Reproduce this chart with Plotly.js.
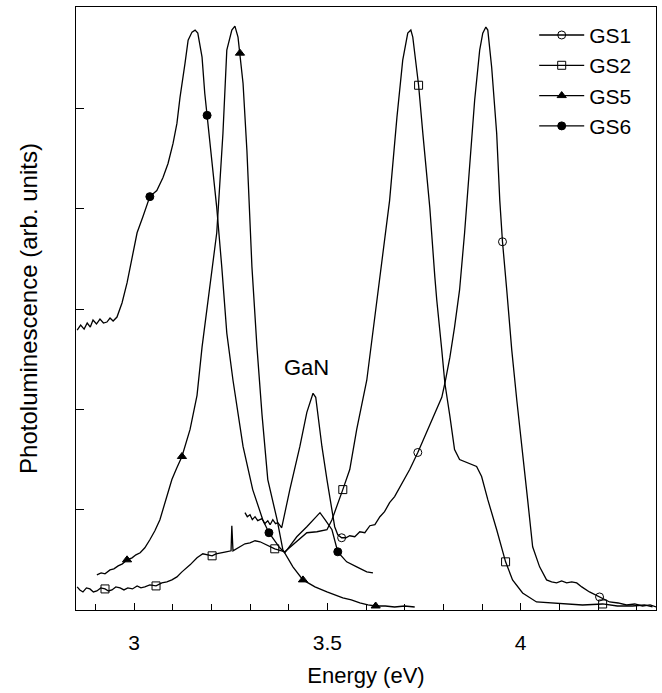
<!DOCTYPE html>
<html><head><meta charset="utf-8">
<script src="https://cdn.plot.ly/plotly-3.0.1.min.js"></script>
<style>html,body{margin:0;padding:0;background:#fff}</style>
</head><body><div id="chart" style="width:662px;height:693px"></div>
<script>
// ---- data (energy in eV, intensity in arb. units) ----
const GS1_x = [3.287,3.293,3.300,3.306,3.313,3.320,3.331,3.338,3.346,3.352,3.359,3.366,3.372,3.382,3.403,3.429,3.447,3.460,3.463,3.470,3.475,3.486,3.499,3.512,3.519,3.527,3.537,3.548,3.558,3.571,3.584,3.597,3.610,3.623,3.636,3.648,3.661,3.674,3.687,3.700,3.713,3.734,3.757,3.783,3.796,3.804,3.817,3.829,3.842,3.855,3.868,3.881,3.894,3.902,3.910,3.915,3.925,3.938,3.946,3.953,3.964,3.977,3.990,4.003,4.018,4.031,4.049,4.067,4.080,4.093,4.106,4.119,4.132,4.145,4.158,4.178,4.204,4.230,4.252,4.274,4.295,4.315,4.335,4.351];
const GS1_y = [0.97,0.93,0.95,0.90,0.93,0.89,0.91,0.86,0.89,0.85,0.90,0.86,0.87,0.82,1.20,1.63,1.97,2.12,2.16,2.12,1.97,1.63,1.30,1.00,0.83,0.75,0.72,0.72,0.74,0.73,0.78,0.77,0.84,0.85,0.93,0.98,1.07,1.13,1.22,1.30,1.40,1.57,1.77,1.99,2.12,2.26,2.52,2.82,3.19,3.76,4.41,5.08,5.58,5.75,5.81,5.78,5.41,4.75,4.08,3.67,3.19,2.59,2.09,1.60,1.10,0.63,0.43,0.30,0.28,0.27,0.29,0.27,0.28,0.27,0.23,0.18,0.13,0.08,0.07,0.05,0.06,0.04,0.05,0.03];
const GS1_mx = [3.537,3.734,3.953,4.204];
const GS1_my = [0.72,1.57,3.67,0.13];

const GS2_x = [2.853,2.860,2.868,2.877,2.886,2.895,2.904,2.914,2.925,2.934,2.943,2.953,2.964,2.974,2.984,2.996,3.008,3.018,3.028,3.041,3.057,3.065,3.072,3.085,3.098,3.111,3.124,3.145,3.163,3.178,3.190,3.202,3.212,3.222,3.238,3.251,3.253,3.256,3.265,3.274,3.287,3.300,3.313,3.326,3.344,3.364,3.390,3.411,3.430,3.447,3.473,3.499,3.512,3.525,3.540,3.558,3.576,3.602,3.636,3.661,3.680,3.695,3.708,3.716,3.721,3.736,3.747,3.765,3.778,3.783,3.796,3.804,3.817,3.829,3.842,3.860,3.886,3.899,3.915,3.938,3.961,3.979,4.005,4.041,4.083,4.120,4.160,4.212,4.250,4.289,4.320,4.341];
const GS2_y = [0.23,0.20,0.18,0.22,0.21,0.18,0.19,0.22,0.21,0.19,0.20,0.23,0.22,0.20,0.22,0.21,0.24,0.22,0.23,0.25,0.24,0.26,0.27,0.28,0.30,0.33,0.38,0.45,0.52,0.56,0.55,0.54,0.56,0.57,0.58,0.59,0.84,0.59,0.61,0.63,0.66,0.67,0.69,0.68,0.65,0.61,0.58,0.65,0.72,0.77,0.78,0.80,0.90,1.03,1.20,1.40,1.80,2.29,3.32,4.08,4.91,5.48,5.75,5.78,5.71,5.23,4.75,4.01,3.32,3.09,2.59,2.26,1.93,1.60,1.50,1.47,1.43,1.33,1.10,0.80,0.48,0.30,0.17,0.08,0.07,0.06,0.05,0.06,0.04,0.04,0.05,0.03];
const GS2_mx = [2.925,3.057,3.202,3.364,3.540,3.736,3.961,4.212];
const GS2_my = [0.21,0.24,0.54,0.61,1.20,5.23,0.48,0.06];

const GS5_x = [2.904,2.915,2.925,2.938,2.948,2.959,2.970,2.982,2.995,3.005,3.016,3.028,3.041,3.054,3.067,3.080,3.098,3.110,3.124,3.145,3.163,3.176,3.191,3.214,3.230,3.240,3.253,3.261,3.269,3.274,3.282,3.292,3.305,3.318,3.331,3.346,3.370,3.385,3.411,3.437,3.468,3.499,3.520,3.540,3.562,3.584,3.605,3.625,3.650,3.674,3.700,3.726];
const GS5_y = [0.35,0.37,0.36,0.40,0.41,0.44,0.46,0.50,0.52,0.55,0.57,0.62,0.70,0.79,0.90,1.07,1.30,1.41,1.53,1.80,2.14,2.62,3.09,3.76,4.75,5.58,5.78,5.82,5.71,5.55,5.25,4.58,3.42,2.62,1.95,1.30,0.90,0.60,0.43,0.30,0.23,0.18,0.15,0.12,0.10,0.07,0.05,0.04,0.04,0.03,0.04,0.03];
const GS5_mx = [2.982,3.124,3.274,3.437,3.625];
const GS5_my = [0.50,1.53,5.55,0.30,0.04];

const GS6_x = [2.853,2.862,2.871,2.879,2.887,2.894,2.903,2.912,2.921,2.930,2.938,2.946,2.956,2.969,2.982,2.995,3.008,3.023,3.041,3.059,3.075,3.088,3.101,3.111,3.119,3.132,3.140,3.150,3.158,3.165,3.176,3.183,3.189,3.202,3.214,3.227,3.240,3.256,3.282,3.307,3.333,3.349,3.377,3.390,3.421,3.447,3.468,3.481,3.494,3.512,3.527,3.550,3.576,3.602,3.618];
const GS6_y = [2.79,2.84,2.80,2.86,2.82,2.89,2.85,2.90,2.86,2.87,2.91,2.88,2.92,3.06,3.26,3.52,3.76,3.92,4.12,4.18,4.31,4.45,4.65,4.85,5.11,5.45,5.68,5.76,5.78,5.75,5.51,5.15,4.93,4.48,4.01,3.42,2.76,2.29,1.63,1.20,0.90,0.77,0.62,0.57,0.73,0.83,0.92,0.97,0.90,0.80,0.58,0.48,0.43,0.38,0.37];
const GS6_mx = [3.041,3.189,3.349,3.527];
const GS6_my = [4.12,4.93,0.77,0.58];

const xTickVals = [3, 3.5, 4];
const xTickText = ['3', '3.5', '4'];
const peakLabel = 'GaN';
const peakLabelX = 3.447, peakLabelY = 2.42;

// ---- build traces ----
const FONT = 'Liberation Sans, Arial, sans-serif';
const series = [
  {name:'GS1', x:GS1_x, y:GS1_y, mx:GS1_mx, my:GS1_my, sym:'circle-open'},
  {name:'GS2', x:GS2_x, y:GS2_y, mx:GS2_mx, my:GS2_my, sym:'square-open'},
  {name:'GS5', x:GS5_x, y:GS5_y, mx:GS5_mx, my:GS5_my, sym:'triangle-up'},
  {name:'GS6', x:GS6_x, y:GS6_y, mx:GS6_mx, my:GS6_my, sym:'circle'}
];
const traces = [];
series.forEach(s => {
  traces.push({x:s.x, y:s.y, mode:'lines', line:{color:'#000', width:1.3}, showlegend:false, hoverinfo:'skip'});
  traces.push({x:s.mx, y:s.my, mode:'markers', showlegend:false,
    marker:{symbol:s.sym, size:8, color:'#000', line:{color:'#000', width:1}}});
});
series.forEach(s => {
  traces.push({x:[null], y:[null], name:s.name, mode:'lines+markers',
    line:{color:'#000', width:1.3},
    marker:{symbol:s.sym, size:8, color:'#000', line:{color:'#000', width:1}}});
});

const layout = {
  width:662, height:693,
  margin:{l:76, r:6, t:7, b:83},
  paper_bgcolor:'#fff', plot_bgcolor:'#fff',
  font:{family:FONT, size:21, color:'#000'},
  showlegend:true,
  legend:{x:0.79, y:0.987, xanchor:'left', yanchor:'top', bgcolor:'rgba(0,0,0,0)',
    font:{family:FONT, size:21, color:'#000'}, itemwidth:45, tracegroupgap:0},
  xaxis:{range:[2.85, 4.35], showgrid:false, zeroline:false,
    showline:true, linecolor:'#000', linewidth:1, mirror:true,
    ticks:'inside', ticklen:7, tickcolor:'#000', tickwidth:1,
    tickmode:'array', tickvals:xTickVals, ticktext:xTickText,
    ticklabelstandoff:14,
    minor:{dtick:0.1, tick0:0, ticks:'inside', ticklen:6, tickcolor:'#000', tickwidth:1},
    tickfont:{family:FONT, size:21, color:'#000'},
    title:{text:'Energy (eV)', font:{family:FONT, size:22, color:'#000'}, standoff:14}},
  yaxis:{range:[0, 6.01], showgrid:false, zeroline:false,
    showline:true, linecolor:'#000', linewidth:1, mirror:true,
    ticks:'inside', ticklen:8, tickcolor:'#000', tickwidth:1,
    dtick:1, tick0:0, showticklabels:false,
    title:{text:'Photoluminescence (arb. units)', font:{family:FONT, size:24, color:'#000'}, standoff:30}},
  annotations:[{x:peakLabelX, y:peakLabelY, xref:'x', yref:'y', text:peakLabel, showarrow:false,
    font:{family:FONT, size:22, color:'#000'}}]
};
Plotly.newPlot('chart', traces, layout, {displayModeBar:false, staticPlot:true});
</script></body></html>
